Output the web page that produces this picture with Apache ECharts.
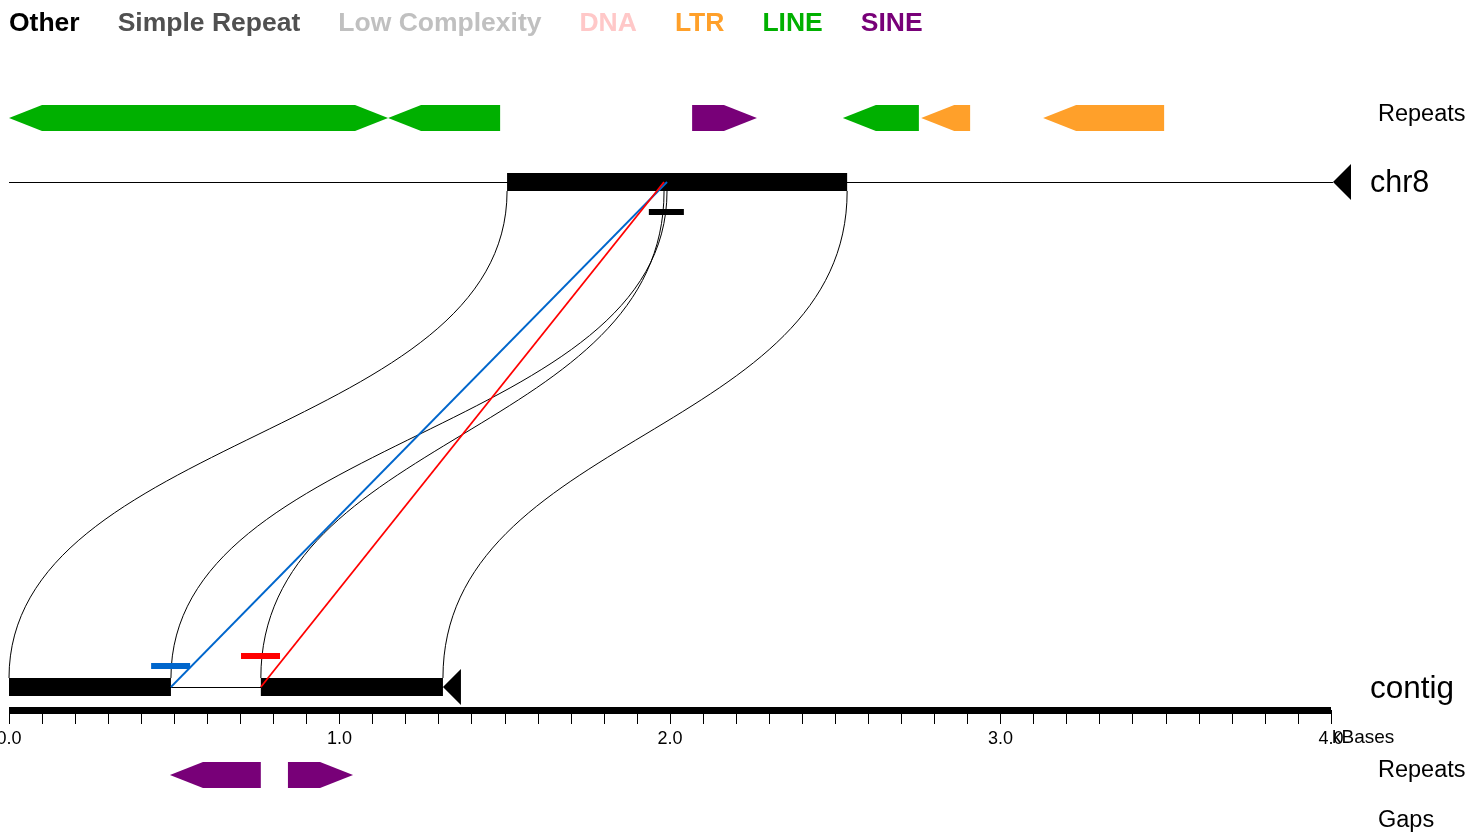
<!DOCTYPE html>
<html><head><meta charset="utf-8">
<script src="https://cdn.jsdelivr.net/npm/echarts@6/dist/echarts.min.js"></script>
<style>html,body{margin:0;padding:0;background:#fff}#c{width:1470px;height:834px}</style>
</head><body><div id="c"></div>
<script>
// ---------------- data (kBases) ----------------
const repeatTypes  = ['Other', 'Simple Repeat', 'Low Complexity', 'DNA', 'LTR', 'LINE', 'SINE'];
const repeatColors = ['#000000', '#505050', '#c0c0c0', '#ffc8c8', '#ffa02a', '#00b000', '#780078'];
const chr8Length = 4.006;
const contigLength = 1.313;
// [start, end, strand (1 '+', -1 '-', 0 both), type]
const chr8Repeats = [
  [0.000, 1.147, 0, 'LINE'],
  [1.147, 1.486, -1, 'LINE'],
  [2.067, 2.263, 1, 'SINE'],
  [2.523, 2.753, -1, 'LINE'],
  [2.760, 2.908, -1, 'LTR'],
  [3.129, 3.495, -1, 'LTR']
];
const contigRepeats = [
  [0.487, 0.762, -1, 'SINE'],
  [0.844, 1.041, 1, 'SINE']
];
// [contigStart, contigEnd, chr8Start, chr8End]
const alignments = [
  [0.000, 0.490, 1.507, 1.991],
  [0.762, 1.313, 1.982, 2.536]
];
// [start, end, track (0 chr8, 1 contig), colour index]
const breakpointMarks = [
  [0.430, 0.548, 1, 0],
  [0.702, 0.820, 1, 1],
  [1.936, 2.042, 0, 2]
];
// [contigPos, chr8Pos, colour index]
const breakpointLinks = [
  [0.490, 1.991, 0],
  [0.762, 1.982, 1]
];
const breakColors = ['#0066cc', '#ff0000', '#000000'];
const tickLabels = ['0.0', '1.0', '2.0', '3.0', '4.0'];
const trackNames = ['chr8', 'contig'];

// ---------------- layout (pixel rows on the hidden y axis) ----------------
const LINE_Y = [182, 687];
const REPEAT_Y = [118, 775];
const BAR_H = 18, ARROW_H = 26, HEAD = 33;
const FONT = '"Liberation Sans", Arial, Helvetica, sans-serif';

const chart = echarts.init(document.getElementById('c'), null, {renderer: 'canvas'});

function repeatSeries(typeIdx) {
  const name = repeatTypes[typeIdx];
  const data = [];
  chr8Repeats.forEach(r => { if (r[3] === name) data.push([r[0], r[1], r[2], 0]); });
  contigRepeats.forEach(r => { if (r[3] === name) data.push([r[0], r[1], r[2], 1]); });
  return {
    type: 'custom', name: name, xAxisIndex: 0, yAxisIndex: 0, clip: false, z: 6,
    encode: {x: [0, 1], y: 3},
    data: data,
    renderItem: function (params, api) {
      const s = api.value(0), e = api.value(1), st = api.value(2), tr = api.value(3);
      const y = REPEAT_Y[tr], h = ARROW_H / 2;
      const x1 = api.coord([s, y])[0], x2 = api.coord([e, y])[0];
      let pts;
      if (st === 1) pts = [[x1, y - h], [x2 - HEAD, y - h], [x2, y], [x2 - HEAD, y + h], [x1, y + h]];
      else if (st === -1) pts = [[x1, y], [x1 + HEAD, y - h], [x2, y - h], [x2, y + h], [x1 + HEAD, y + h]];
      else pts = [[x1, y], [x1 + HEAD, y - h], [x2 - HEAD, y - h], [x2, y], [x2 - HEAD, y + h], [x1 + HEAD, y + h]];
      return {type: 'polygon', shape: {points: pts}, style: {fill: repeatColors[typeIdx]}};
    }
  };
}

const series = [
  { // alignment curves
    type: 'custom', name: 'curves', clip: false, z: 1, silent: true,
    encode: {x: [0, 1, 2, 3], y: -1},
    data: alignments,
    renderItem: function (params, api) {
      const yb = LINE_Y[1] - BAR_H / 2, yt = LINE_Y[0] + BAR_H / 2, ym = (yb + yt) / 2;
      const cs = api.coord([api.value(0), 0])[0], ce = api.coord([api.value(1), 0])[0];
      const gs = api.coord([api.value(2), 0])[0], ge = api.coord([api.value(3), 0])[0];
      const mk = (a, b) => ({type: 'bezierCurve',
        shape: {x1: a, y1: yb, cpx1: a, cpy1: ym, cpx2: b, cpy2: ym, x2: b, y2: yt},
        style: {stroke: '#000', lineWidth: 1, fill: null}});
      return {type: 'group', children: [mk(cs, gs), mk(ce, ge)]};
    }
  },
  { // sequence lines and end triangles
    type: 'custom', name: 'seqs', clip: false, z: 2, silent: true,
    encode: {x: 0, y: -1},
    data: [[chr8Length, 0], [contigLength, 1]],
    renderItem: function (params, api) {
      const tr = api.value(1), y = LINE_Y[tr];
      const x0 = api.coord([0, y])[0], x1 = api.coord([api.value(0), y])[0];
      return {type: 'group', children: [
        {type: 'line', shape: {x1: x0, y1: y + 0.5, x2: x1, y2: y + 0.5}, style: {stroke: '#000', lineWidth: 1}},
        {type: 'polygon', shape: {points: [[x1, y], [x1 + 18, y - 18], [x1 + 18, y + 18]]}, style: {fill: '#000'}}
      ]};
    }
  },
  { // aligned blocks on both sequences
    type: 'custom', name: 'blocks', clip: false, z: 3, silent: true,
    encode: {x: [0, 1, 2, 3], y: -1},
    data: alignments,
    renderItem: function (params, api) {
      const c1 = api.coord([api.value(0), 0])[0], c2 = api.coord([api.value(1), 0])[0];
      const g1 = api.coord([api.value(2), 0])[0], g2 = api.coord([api.value(3), 0])[0];
      return {type: 'group', children: [
        {type: 'rect', shape: {x: c1, y: LINE_Y[1] - BAR_H / 2, width: c2 - c1, height: BAR_H}, style: {fill: '#000'}},
        {type: 'rect', shape: {x: g1, y: LINE_Y[0] - BAR_H / 2, width: g2 - g1, height: BAR_H}, style: {fill: '#000'}}
      ]};
    }
  },
  { // breakpoint marks
    type: 'custom', name: 'marks', clip: false, z: 4, silent: true,
    encode: {x: [0, 1], y: -1},
    data: breakpointMarks,
    renderItem: function (params, api) {
      const tr = api.value(2), ci = api.value(3);
      let y;
      if (tr === 0) y = LINE_Y[0] + 30;
      else {
        let row = 0;
        for (let i = 0; i < params.dataIndex; i++) if (breakpointMarks[i][2] === 1) row++;
        y = LINE_Y[1] - 21 - row * 10;
      }
      const x1 = api.coord([api.value(0), 0])[0], x2 = api.coord([api.value(1), 0])[0];
      return {type: 'rect', shape: {x: x1, y: y - 3, width: x2 - x1, height: 6}, style: {fill: breakColors[ci]}};
    }
  },
  { // breakpoint links
    type: 'custom', name: 'links', clip: false, z: 5, silent: true,
    encode: {x: [0, 1], y: -1},
    data: breakpointLinks,
    renderItem: function (params, api) {
      const a = api.coord([api.value(0), 0])[0], b = api.coord([api.value(1), 0])[0];
      return {type: 'line', shape: {x1: a, y1: LINE_Y[1], x2: b, y2: LINE_Y[0]},
        style: {stroke: breakColors[api.value(2)], lineWidth: 1.8}};
    }
  }
];
repeatTypes.forEach((t, i) => series.push(repeatSeries(i)));

const txt = (t, x, y, size) => ({type: 'text', x: x, y: y, silent: true,
  style: {text: t, font: size + 'px ' + FONT, fill: '#000', verticalAlign: 'middle', textVerticalAlign: 'middle'}});

chart.setOption({
  animation: false,
  backgroundColor: '#fff',
  legend: {
    left: 4, top: 10, padding: 0, itemWidth: 0, itemHeight: 0, itemGap: 33, icon: 'rect', selectedMode: false,
    textStyle: {fontFamily: FONT, fontWeight: 'bold', fontSize: 26.5},
    data: repeatTypes.map((n, i) => ({name: n, textStyle: {color: repeatColors[i]}}))
  },
  grid: [
    {left: 9, right: 139, top: 0, bottom: 0, outerBoundsMode: 'none', containLabel: false},
    {left: 9, right: 139, top: 600, bottom: 124, outerBoundsMode: 'none', containLabel: false}
  ],
  xAxis: [
    {gridIndex: 0, type: 'value', min: 0, max: 4, show: false},
    {gridIndex: 1, type: 'value', min: 0, max: 4, interval: 0.1, position: 'bottom',
      axisLine: {show: true, lineStyle: {color: '#000', width: 7, cap: 'butt'}},
      axisTick: {show: true, length: 14, lineStyle: {color: '#000', width: 1}},
      splitLine: {show: false},
      axisLabel: {show: true, margin: 20, color: '#000', fontFamily: FONT, fontSize: 18,
        formatter: function (v) {
          const r = Math.round(v);
          return Math.abs(v - r) < 1e-6 ? tickLabels[r] : '';
        }}
    }
  ],
  yAxis: [
    {gridIndex: 0, type: 'value', min: 0, max: 834, inverse: true, show: false},
    {gridIndex: 1, type: 'value', min: 0, max: 1, show: false}
  ],
  graphic: [
    txt('Repeats', 1378, 115, 23.5),
    txt(trackNames[0], 1370, 184, 30.5),
    txt(trackNames[1], 1370, 689, 31.5),
    txt('kBases', 1332, 738, 19),
    txt('Repeats', 1378, 771, 23.5),
    txt('Gaps', 1378, 821, 23.5)
  ],
  series: series
});
</script>
</body></html>
